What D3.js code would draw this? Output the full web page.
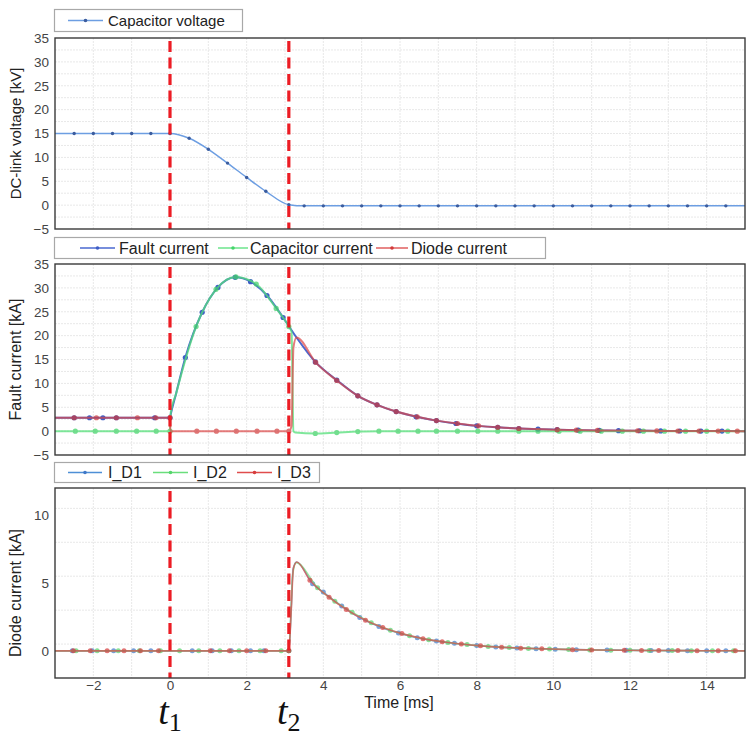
<!DOCTYPE html>
<html>
<head>
<meta charset="utf-8">
<script src="https://cdn.jsdelivr.net/npm/d3@7"></script>
<style>
  body { margin: 0; background: #fff; }
  svg { display: block; }
</style>
</head>
<body>
<svg id="chart" width="756" height="739"></svg>
<script>
// ---- data (time in ms, values in kV / kA) ----
const xTicks = [-2, 0, 2, 4, 6, 8, 10, 12, 14];
const kvTicks = [-5, 0, 5, 10, 15, 20, 25, 30, 35];
const kaTicks = [-5, 0, 5, 10, 15, 20, 25, 30, 35];
const diodeTicks = [0, 5, 10];
const eventTimes = [0, 3.1];
const eventNames = ['1', '2'];

const capVoltage = [
  [-3, 15], [-2.5, 15], [-2, 15], [-1.5, 15], [-1, 15], [-0.5, 15], [0, 15],
  [0.5, 14.0], [1, 11.7], [1.5, 8.8], [2, 5.8], [2.5, 2.9], [3.1, 0.1],
  [3.5, -0.15], [4, -0.15], [4.5, -0.15], [5, -0.15], [5.5, -0.15], [6, -0.15],
  [6.5, -0.15], [7, -0.15], [7.5, -0.15], [8, -0.15], [8.5, -0.15], [9, -0.15],
  [9.5, -0.15], [10, -0.15], [10.5, -0.15], [11, -0.15], [11.5, -0.15], [12, -0.15],
  [12.5, -0.15], [13, -0.15], [13.5, -0.15], [14, -0.15], [14.5, -0.15], [15, -0.15]
];

const faultCurrent = [
  [-3, 2.8], [-2.5, 2.8], [-2.1, 2.8], [-1.75, 2.8], [-1.4, 2.8], [-0.4, 2.8], [0, 2.8],
  [0.01, 3.2], [0.16, 7.9], [0.4, 15.4], [0.84, 24.9], [1.25, 30.1], [1.7, 32.2], [2.1, 31.3],
  [2.53, 28.4], [2.95, 23.8], [3.3, 19.6], [3.79, 14.5], [4.35, 10.7], [4.9, 7.4], [5.4, 5.5],
  [5.9, 4.1], [6.42, 3.0], [6.95, 2.2], [7.46, 1.6], [8.0, 1.1], [8.55, 0.8],
  [9.1, 0.55], [9.6, 0.4], [10.1, 0.3], [10.65, 0.2], [11.2, 0.15], [11.7, 0.1],
  [12.25, 0.08], [12.8, 0.05], [13.3, 0.03], [13.85, 0.02], [14.4, 0.01], [15, 0]
];

const capCurrent = [
  [-3, 0], [-2.47, 0], [-1.95, 0], [-1.4, 0], [-0.87, 0], [-0.36, 0], [0, 0],
  [0.01, 3.2], [0.16, 7.9], [0.68, 21.9], [1.2, 29.7], [1.72, 32.3], [2.25, 30.8],
  [2.77, 25.7], [3.1, 21.9], [3.17, 20.8], [3.22, 0], [3.27, -0.3], [3.79, -0.5],
  [4.35, -0.3], [4.9, -0.1], [5.45, 0], [5.95, 0], [6.47, 0], [6.95, 0], [7.5, 0],
  [8.03, 0], [8.55, 0], [9.1, 0], [9.6, 0], [10.15, 0], [10.7, 0], [11.25, 0],
  [11.8, 0], [12.35, 0], [12.9, 0], [13.45, 0], [14.0, 0], [14.55, 0], [15, 0]
];

const diodeCurrent = [
  [-3, 2.8], [-2.5, 2.8], [-1.92, 2.8], [-1.4, 2.8], [-0.85, 2.8], [-0.37, 2.8], [0, 2.8],
  [0.01, 0], [0.16, 0], [0.7, 0], [1.21, 0], [1.73, 0], [2.27, 0], [2.79, 0], [3.1, 0],
  [3.17, 1.0], [3.22, 17.5], [3.3, 19.6], [3.8, 14.4], [4.35, 10.6], [4.9, 7.4],
  [5.4, 5.5], [5.9, 4.1], [6.45, 3.0], [6.95, 2.2], [7.5, 1.6], [8.05, 1.1], [8.55, 0.8],
  [9.1, 0.55], [10.1, 0.3], [10.6, 0.22], [11.15, 0.15], [12.2, 0.08], [12.7, 0.05],
  [13.25, 0.03], [13.8, 0.02], [14.3, 0.01], [14.8, 0], [15, 0]
];

const iD1 = [
  [-3, 0], [-2.55, 0], [-2.03, 0], [-1.47, 0], [-0.95, 0], [-0.5, 0], [0.05, 0], [0.58, 0],
  [1.1, 0], [1.6, 0], [2.1, 0], [2.45, 0], [3.1, 0], [3.16, 3.0], [3.21, 6.0], [3.3, 6.55],
  [3.72, 4.95], [4.0, 4.33], [4.48, 3.3], [4.95, 2.45], [5.45, 1.8], [5.96, 1.32],
  [6.45, 0.97], [6.95, 0.72], [7.42, 0.56], [8.0, 0.39], [8.5, 0.29], [9.05, 0.21],
  [9.55, 0.16], [10.05, 0.12], [10.6, 0.09], [11.4, 0.06], [11.9, 0.04], [12.55, 0.03],
  [13.0, 0.02], [13.5, 0.015], [14.0, 0.01], [14.5, 0.005], [15, 0]
];

const iD2 = [
  [-3, 0], [-2.45, 0], [-1.9, 0], [-1.35, 0], [-0.8, 0], [-0.25, 0], [0.25, 0], [0.75, 0],
  [1.3, 0], [1.8, 0], [2.35, 0], [2.9, 0], [3.1, 0], [3.15, 2.5], [3.2, 5.6], [3.29, 6.5],
  [3.85, 4.65], [4.3, 3.65], [4.75, 2.85], [5.25, 2.08], [5.75, 1.52], [6.25, 1.12],
  [6.75, 0.82], [7.25, 0.62], [7.75, 0.46], [8.3, 0.33], [8.85, 0.24], [9.35, 0.18],
  [9.9, 0.13], [10.4, 0.1], [10.95, 0.07], [11.5, 0.05], [12.0, 0.04], [12.5, 0.03],
  [13.1, 0.02], [13.6, 0.015], [14.15, 0.01], [14.7, 0.005], [15, 0]
];

const iD3 = [
  [-3, 0], [-2.52, 0], [-2.08, 0], [-1.64, 0], [-1.2, 0], [-0.77, 0], [-0.3, 0], [0.17, 0],
  [1.05, 0], [1.55, 0], [2.0, 0], [2.5, 0], [3.1, 0], [3.16, 2.8], [3.22, 6.1], [3.31, 6.55],
  [3.65, 5.2], [4.15, 3.95], [4.6, 3.05], [5.1, 2.25], [5.55, 1.72], [6.05, 1.27],
  [6.6, 0.9], [7.1, 0.67], [7.6, 0.5], [8.1, 0.37], [8.65, 0.27], [9.15, 0.2],
  [9.7, 0.15], [10.5, 0.09], [11.0, 0.07], [11.85, 0.04], [12.3, 0.03], [12.75, 0.025],
  [13.25, 0.02], [13.75, 0.013], [14.3, 0.008], [14.75, 0.004], [15, 0]
];

// ---- layout ----
const svg = d3.select('#chart').style('font-family', 'Arial, "Liberation Sans", sans-serif');
const left = 55, right = 745;
const x = d3.scaleLinear().domain([-3, 15]).range([left, right]);

// no sample dots on the fast switching edges just after an event
const onEdge = t => eventTimes.some(e => t > e && t < e + 0.25);

const panels = [
  {
    top: 38, bottom: 229, domain: [-5, 35], ticks: kvTicks,
    title: 'DC-link voltage [kV]', titleSize: 15, titleShift: 0,
    legend: { x: 54, y: 9, w: 188, h: 22, size: 15 },
    series: [
      { name: 'Capacitor voltage', data: capVoltage, line: '#6d9ee2', dot: '#3b5c9e', width: 1.5, r: 1.7, opacity: 1, lx: 68, lw: 35, tx: 108 }
    ]
  },
  {
    top: 264, bottom: 455, domain: [-5, 35], ticks: kaTicks,
    title: 'Fault current [kA]', titleSize: 16, titleShift: 0,
    legend: { x: 54, y: 237, w: 491, h: 21, size: 16 },
    series: [
      { name: 'Fault current', data: faultCurrent, line: '#4a68d0', dot: '#3f5ec6', width: 2, r: 2.6, opacity: 1, lx: 80, lw: 35, tx: 119 },
      { name: 'Capacitor current', data: capCurrent, line: '#55e07a', dot: '#45d46a', width: 2, r: 2.6, opacity: 0.75, lx: 218, lw: 30, tx: 250 },
      { name: 'Diode current', data: diodeCurrent, line: '#dc4646', dot: '#d23a3a', width: 2, r: 2.6, opacity: 0.7, lx: 376, lw: 32, tx: 411 }
    ]
  },
  {
    top: 488, bottom: 678, domain: [-2, 12], ticks: diodeTicks,
    title: 'Diode current [kA]', titleSize: 16, titleShift: 10,
    legend: { x: 54, y: 462, w: 265, h: 20, size: 16 },
    series: [
      { name: 'I_D1', data: iD1, line: '#4e8fd6', dot: '#3f78c8', width: 1.6, r: 2.5, opacity: 0.7, lx: 68, lw: 34, tx: 108 },
      { name: 'I_D2', data: iD2, line: '#6ade7c', dot: '#55d46b', width: 1.6, r: 2.5, opacity: 0.7, lx: 153, lw: 35, tx: 193 },
      { name: 'I_D3', data: iD3, line: '#e04c4c', dot: '#d63c3c', width: 1.6, r: 2.5, opacity: 0.7, lx: 237, lw: 35, tx: 277 }
    ],
    xAxis: true
  }
];

panels.forEach((p, i) => {
  const y = d3.scaleLinear().domain(p.domain).range([p.bottom, p.top]);
  const g = svg.append('g').attr('class', 'panel');

  // clip to plot area
  const clipId = 'clip' + i;
  svg.append('clipPath').attr('id', clipId)
    .append('rect').attr('x', left).attr('y', p.top)
    .attr('width', right - left).attr('height', p.bottom - p.top);

  // grid
  const grid = g.append('g').attr('class', 'grid');
  grid.selectAll('line.v').data(d3.range(-2, 15, 1)).join('line')
    .attr('x1', d => x(d)).attr('x2', d => x(d))
    .attr('y1', p.top).attr('y2', p.bottom)
    .attr('stroke', '#e8e8e8').attr('stroke-dasharray', '2,1');
  grid.selectAll('line.h').data(d3.range(p.domain[0] + 2.5, p.domain[1], 2.5)).join('line')
    .attr('x1', left).attr('x2', right)
    .attr('y1', d => y(d)).attr('y2', d => y(d))
    .attr('stroke', '#e8e8e8').attr('stroke-dasharray', '2,1');

  // series
  const plot = g.append('g').attr('clip-path', `url(#${clipId})`);
  const line = d3.line().x(d => x(d[0])).y(d => y(d[1])).curve(d3.curveMonotoneX);
  p.series.forEach(s => {
    const sg = plot.append('g').attr('opacity', s.opacity);
    sg.append('path').datum(s.data)
      .attr('d', line).attr('fill', 'none')
      .attr('stroke', s.line).attr('stroke-width', s.width);
    sg.selectAll('circle')
      .data(s.data.filter(d => d[0] > -3 && d[0] < 15 && !onEdge(d[0])))
      .join('circle')
      .attr('cx', d => x(d[0])).attr('cy', d => y(d[1]))
      .attr('r', s.r).attr('fill', s.dot);
  });

  // event markers t1, t2
  plot.selectAll('line.event').data(eventTimes).join('line')
    .attr('x1', d => x(d)).attr('x2', d => x(d))
    .attr('y1', p.top + 3).attr('y2', p.bottom)
    .attr('stroke', '#ec1c24').attr('stroke-width', 3.2)
    .attr('stroke-dasharray', '11,5.5');

  // frame
  g.append('rect').attr('x', left).attr('y', p.top)
    .attr('width', right - left).attr('height', p.bottom - p.top)
    .attr('fill', 'none').attr('stroke', '#3a3a3a').attr('stroke-width', 1.4);

  // y axis
  const yAxis = g.append('g').attr('transform', `translate(${left},0)`)
    .call(d3.axisLeft(y).tickValues(p.ticks).tickSize(0).tickPadding(6));
  yAxis.select('.domain').remove();
  yAxis.selectAll('text').attr('font-size', 13.5).attr('fill', '#444')
    .attr('font-family', 'Arial, "Liberation Sans", sans-serif');

  g.append('text')
    .attr('transform', `translate(21, ${(p.top + p.bottom) / 2 + p.titleShift}) rotate(-90)`)
    .attr('text-anchor', 'middle').attr('font-size', p.titleSize).attr('fill', '#222')
    .text(p.title);

  // legend
  const lg = g.append('g').attr('class', 'legend');
  lg.append('rect').attr('x', p.legend.x + 0.5).attr('y', p.legend.y + 0.5)
    .attr('width', p.legend.w).attr('height', p.legend.h)
    .attr('fill', '#fff').attr('stroke', '#a8a8a8').attr('stroke-width', 1.2);
  const cy = p.legend.y + p.legend.h / 2 + 0.5;
  p.series.forEach(s => {
    lg.append('line').attr('x1', s.lx).attr('x2', s.lx + s.lw).attr('y1', cy).attr('y2', cy)
      .attr('stroke', s.line).attr('stroke-width', 1.3);
    lg.append('circle').attr('cx', s.lx + s.lw / 2).attr('cy', cy).attr('r', 1.8).attr('fill', s.dot);
    lg.append('text').attr('x', s.tx).attr('y', cy + p.legend.size * 0.35)
      .attr('font-size', p.legend.size).attr('fill', '#222').text(s.name);
  });

  if (p.xAxis) {
    const xAxis = g.append('g').attr('transform', `translate(0,${p.bottom})`)
      .call(d3.axisBottom(x).tickValues(xTicks).tickSize(0).tickPadding(2));
    xAxis.select('.domain').remove();
    xAxis.selectAll('text').attr('font-size', 13.5).attr('fill', '#444')
      .attr('font-family', 'Arial, "Liberation Sans", sans-serif');

    g.append('text').attr('x', 399).attr('y', 708).attr('text-anchor', 'middle')
      .attr('font-size', 16).attr('fill', '#222').text('Time [ms]');

    // t1 / t2 labels
    const lab = g.selectAll('text.evt').data(eventTimes).join('text')
      .attr('class', 'evt')
      .attr('x', d => x(d)).attr('y', 724)
      .attr('text-anchor', 'middle')
      .attr('font-family', '"Liberation Serif", "DejaVu Serif", serif')
      .attr('font-size', 38).attr('fill', '#111');
    lab.append('tspan').attr('font-style', 'italic').text('t');
    lab.append('tspan').attr('font-size', 26).attr('dy', 7).text((d, k) => eventNames[k]);
  }
});
</script>
</body>
</html>
